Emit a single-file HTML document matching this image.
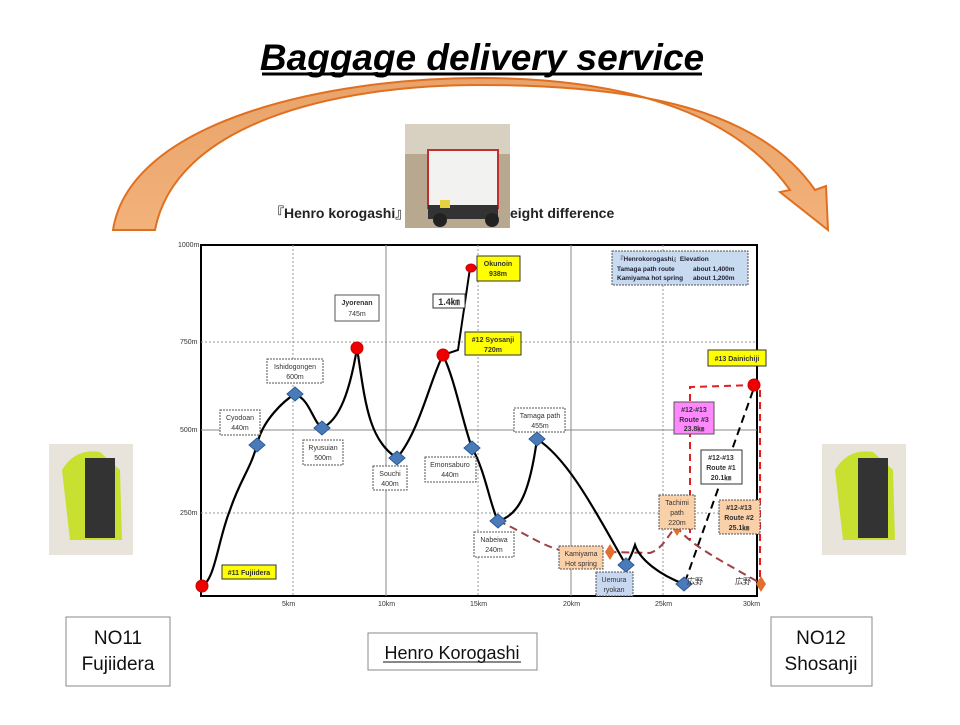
<!DOCTYPE html>
<html><head><meta charset="utf-8"><style>
body{margin:0;background:#fff;width:960px;height:720px;overflow:hidden;font-family:"Liberation Sans","Noto Sans CJK JP",sans-serif}
</style></head><body>
<svg width="960" height="720" viewBox="0 0 960 720" xmlns="http://www.w3.org/2000/svg" font-family="Liberation Sans, Noto Sans CJK JP, sans-serif">
<defs><linearGradient id="og" x1="0" y1="0" x2="0" y2="1"><stop offset="0" stop-color="#e8a36a"/><stop offset="1" stop-color="#f2b27a"/></linearGradient></defs>
<path d="M113,230 C130,120 330,78 480,78 C640,78 740,120 790,190 L780,192 L828,230 L826,186 L815,190 C760,110 640,85 480,85 C330,85 175,125 155,230 Z" fill="url(#og)" stroke="#e07020" stroke-width="2"/>
<text x="482" y="70" text-anchor="middle" font-size="37" font-weight="bold" font-style="italic" fill="#000">Baggage delivery service</text>
<line x1="262" y1="74" x2="702" y2="74" stroke="#000" stroke-width="3"/>
<text x="270" y="218" font-size="14" font-weight="bold" fill="#222">『Henro korogashi』</text>
<text x="510" y="218" font-size="14" font-weight="bold" fill="#222">eight difference</text>
<rect x="405" y="124" width="105" height="104" fill="#b8a890"/>
<rect x="405" y="124" width="105" height="30" fill="#d8d0c0"/>
<rect x="428" y="150" width="70" height="58" fill="#f2f2f0" stroke="#c03030" stroke-width="2"/>
<rect x="428" y="205" width="70" height="14" fill="#333"/>
<circle cx="440" cy="220" r="7" fill="#222"/><circle cx="492" cy="220" r="7" fill="#222"/>
<rect x="440" y="200" width="10" height="8" fill="#e8d040"/>
<g stroke-width="1">
<rect x="201" y="245" width="556" height="351" fill="#fff" stroke="#000" stroke-width="2"/>
<g stroke="#999" stroke-dasharray="2,2"><line x1="201" y1="342" x2="757" y2="342"/><line x1="201" y1="513" x2="757" y2="513"/>
<line x1="293" y1="245" x2="293" y2="596"/><line x1="478" y1="245" x2="478" y2="596"/><line x1="663" y1="245" x2="663" y2="596"/></g>
<g stroke="#888"><line x1="201" y1="430" x2="757" y2="430"/><line x1="386" y1="245" x2="386" y2="596"/><line x1="571" y1="245" x2="571" y2="596"/></g>
</g>
<g font-size="7" fill="#333"><text x="178" y="247">1000m</text><text x="180" y="344">750m</text><text x="180" y="432">500m</text><text x="180" y="515">250m</text>
<text x="282" y="606">5km</text><text x="378" y="606">10km</text><text x="470" y="606">15km</text><text x="563" y="606">20km</text><text x="655" y="606">25km</text><text x="743" y="606">30km</text></g>
<path d="M498,521 C520,530 540,545 560,550 L610,552 L650,553 C665,548 670,530 677,527 C690,545 720,560 760,583" fill="none" stroke="#a04040" stroke-width="2" stroke-dasharray="8,5"/>
<path d="M755,385 L690,387 L690,540 M760,390 L760,580" fill="none" stroke="#e02020" stroke-width="2" stroke-dasharray="7,5"/>
<path d="M685,582 L755,385" fill="none" stroke="#000" stroke-width="2" stroke-dasharray="8,5"/>
<path d="M202,586 C215,580 218,540 230,510 C240,480 250,470 257,445 C262,420 285,400 295,394 C310,400 312,420 322,428 C340,420 350,390 357,348 C365,400 368,440 397,458 C420,430 430,380 443,355 C455,380 462,420 472,448 C485,470 490,505 498,521 C520,515 530,490 537,439 C570,460 600,520 626,565 C632,555 634,548 635,545 C640,560 660,575 684,584" fill="none" stroke="#000" stroke-width="2.2"/>
<path d="M443,355 L458,350 L470,268" fill="none" stroke="#000" stroke-width="2"/>
<g fill="#e00" stroke="#c00"><circle cx="202" cy="586" r="6"/><circle cx="357" cy="348" r="6"/><circle cx="443" cy="355" r="6"/><ellipse cx="471" cy="268" rx="5" ry="4"/><circle cx="754" cy="385" r="6"/></g>
<g fill="#4a7ab8" stroke="#2a5a98"><path d="M257,438l8,7-8,7-8-7z"/><path d="M295,387l8,7-8,7-8-7z"/><path d="M322,421l8,7-8,7-8-7z"/><path d="M397,451l8,7-8,7-8-7z"/><path d="M472,441l8,7-8,7-8-7z"/><path d="M498,514l8,7-8,7-8-7z"/><path d="M537,432l8,7-8,7-8-7z"/><path d="M626,558l8,7-8,7-8-7z"/><path d="M684,577l8,7-8,7-8-7z"/></g>
<g fill="#e07030"><path d="M610,544l5,8-5,8-5-8z"/><path d="M677,520l5,8-5,8-5-8z"/><path d="M761,576l5,8-5,8-5-8z"/></g>
<g font-size="7" fill="#333" text-anchor="middle">
<rect x="220" y="410" width="40" height="25" fill="#fff" stroke="#555" stroke-dasharray="2,1"/><text x="240" y="420">Cyodoan</text><text x="240" y="430">440m</text>
<rect x="267" y="359" width="56" height="24" fill="#fff" stroke="#555" stroke-dasharray="2,1"/><text x="295" y="369">Ishidogongen</text><text x="295" y="379">600m</text>
<rect x="303" y="440" width="40" height="25" fill="#fff" stroke="#555" stroke-dasharray="2,1"/><text x="323" y="450">Ryusuian</text><text x="323" y="460">500m</text>
<rect x="335" y="295" width="44" height="26" fill="#fff" stroke="#555"/><text x="357" y="305" font-weight="bold">Jyorenan</text><text x="357" y="316">745m</text>
<rect x="373" y="466" width="34" height="24" fill="#fff" stroke="#555" stroke-dasharray="2,1"/><text x="390" y="476">Souchi</text><text x="390" y="486">400m</text>
<rect x="425" y="457" width="51" height="25" fill="#fff" stroke="#555" stroke-dasharray="2,1"/><text x="450" y="467">Emonsaburo</text><text x="450" y="477">440m</text>
<rect x="433" y="294" width="32" height="14" fill="#fff" stroke="#333"/><text x="449" y="305" font-size="9" font-weight="bold">1.4㎞</text>
<rect x="477" y="256" width="43" height="25" fill="#ffff00" stroke="#333"/><text x="498" y="266" font-weight="bold">Okunoin</text><text x="498" y="276" font-weight="bold">938m</text>
<rect x="465" y="332" width="56" height="23" fill="#ffff00" stroke="#333"/><text x="493" y="342" font-weight="bold">#12 Syosanji</text><text x="493" y="352" font-weight="bold">720m</text>
<rect x="514" y="408" width="51" height="24" fill="#fff" stroke="#555" stroke-dasharray="2,1"/><text x="540" y="418">Tamaga path</text><text x="540" y="428">455m</text>
<rect x="474" y="532" width="40" height="25" fill="#fff" stroke="#555" stroke-dasharray="2,1"/><text x="494" y="542">Nabeiwa</text><text x="494" y="552">240m</text>
<rect x="559" y="546" width="44" height="23" fill="#fad0a8" stroke="#555" stroke-dasharray="2,1"/><text x="581" y="556">Kamiyama</text><text x="581" y="566">Hot spring</text>
<rect x="596" y="572" width="37" height="24" fill="#c8d8f0" stroke="#555" stroke-dasharray="2,1"/><text x="614" y="582">Uemura</text><text x="614" y="592">ryokan</text>
<rect x="659" y="495" width="36" height="34" fill="#fad0a8" stroke="#555" stroke-dasharray="2,1"/><text x="677" y="505">Tachimi</text><text x="677" y="515">path</text><text x="677" y="525">220m</text>
<rect x="674" y="402" width="40" height="32" fill="#ff88ff" stroke="#555"/><text x="694" y="412" font-weight="bold">#12-#13</text><text x="694" y="422" font-weight="bold">Route #3</text><text x="694" y="431" font-weight="bold">23.8㎞</text>
<rect x="701" y="450" width="41" height="34" fill="#fff" stroke="#333"/><text x="721" y="460" font-weight="bold">#12-#13</text><text x="721" y="470" font-weight="bold">Route #1</text><text x="721" y="480" font-weight="bold">20.1㎞</text>
<rect x="719" y="500" width="41" height="34" fill="#fad0a8" stroke="#555" stroke-dasharray="2,1"/><text x="739" y="510" font-weight="bold">#12-#13</text><text x="739" y="520" font-weight="bold">Route #2</text><text x="739" y="530" font-weight="bold">25.1㎞</text>
<rect x="708" y="350" width="58" height="16" fill="#ffff00" stroke="#333"/><text x="737" y="361" font-weight="bold">#13 Dainichiji</text>
<rect x="222" y="565" width="54" height="14" fill="#ffff00" stroke="#333"/><text x="249" y="575" font-weight="bold">#11 Fujiidera</text>
<text x="695" y="584" font-size="8">広野</text><text x="743" y="584" font-size="8">広野</text>
</g>
<rect x="612" y="251" width="136" height="34" fill="#c8daf0" stroke="#555" stroke-dasharray="2,1"/>
<g font-size="6.5" font-weight="bold" fill="#223"><text x="617" y="261">『Henrokorogashi』Elevation</text><text x="617" y="271">Tamaga path route</text><text x="693" y="271">about   1,400m</text><text x="617" y="280">Kamiyama hot spring</text><text x="693" y="280">about   1,200m</text></g>
<g><rect x="49" y="444" width="84" height="111" fill="#e8e4dc"/><path d="M62,470 Q75,448 100,452 L120,470 L122,540 L70,540 Z" fill="#c8e030"/><rect x="85" y="458" width="30" height="80" fill="#333"/></g>
<g><rect x="822" y="444" width="84" height="111" fill="#e8e4dc"/><path d="M835,470 Q848,448 873,452 L893,470 L895,540 L843,540 Z" fill="#c8e030"/><rect x="858" y="458" width="30" height="80" fill="#333"/></g>
<rect x="66" y="617" width="104" height="69" fill="#fff" stroke="#888"/><text x="118" y="644" font-size="19" text-anchor="middle" fill="#111">NO11</text><text x="118" y="670" font-size="19" text-anchor="middle" fill="#111">Fujiidera</text>
<rect x="368" y="633" width="169" height="37" fill="#fff" stroke="#888"/><text x="452" y="659" font-size="18" text-anchor="middle" fill="#111">Henro Korogashi</text><line x1="383" y1="662" x2="521" y2="662" stroke="#111"/>
<rect x="771" y="617" width="101" height="69" fill="#fff" stroke="#888"/><text x="821" y="644" font-size="19" text-anchor="middle" fill="#111">NO12</text><text x="821" y="670" font-size="19" text-anchor="middle" fill="#111">Shosanji</text>
</svg>
</body></html>
